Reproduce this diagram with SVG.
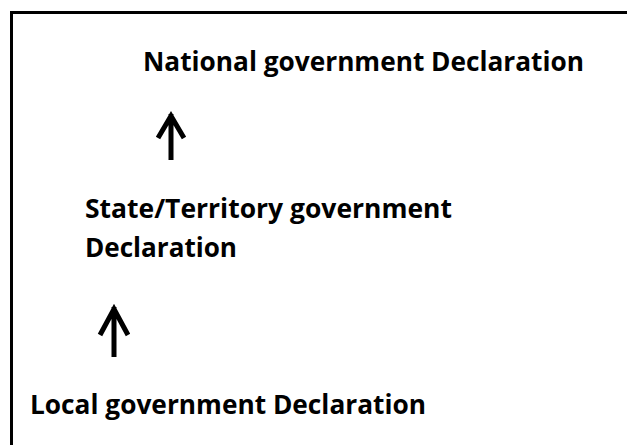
<svg xmlns="http://www.w3.org/2000/svg" width="627" height="445" viewBox="0 0 627 445">
<style>
.t{font-family:"Open Sans","Liberation Sans",sans-serif;font-weight:bold;font-size:26.5px;fill:#000}
.a{stroke:#000;stroke-width:5;fill:none;stroke-linecap:butt;stroke-linejoin:miter}
</style>
<rect width="627" height="445" fill="#fff"/>
<path d="M11.5 445 V12.5 H627" stroke="#000" stroke-width="3" fill="none"/>
<g id="national"><text class="t" x="143" y="71" textLength="441" lengthAdjust="spacingAndGlyphs">National government Declaration</text></g>
<g id="state"><text class="t" x="85" y="218" textLength="367" lengthAdjust="spacingAndGlyphs">State/Territory government</text><text class="t" x="85" y="257" textLength="152" lengthAdjust="spacingAndGlyphs">Declaration</text></g>
<g id="local"><text class="t" x="30" y="414" textLength="396" lengthAdjust="spacingAndGlyphs">Local government Declaration</text></g>
<g id="connectors">
<path class="a" d="M171 114 V160 M158 138 L171 116 L184 138"/>
<path class="a" d="M114 307 V357 M100 335 L114 309 L128 335"/>
</g>
</svg>
